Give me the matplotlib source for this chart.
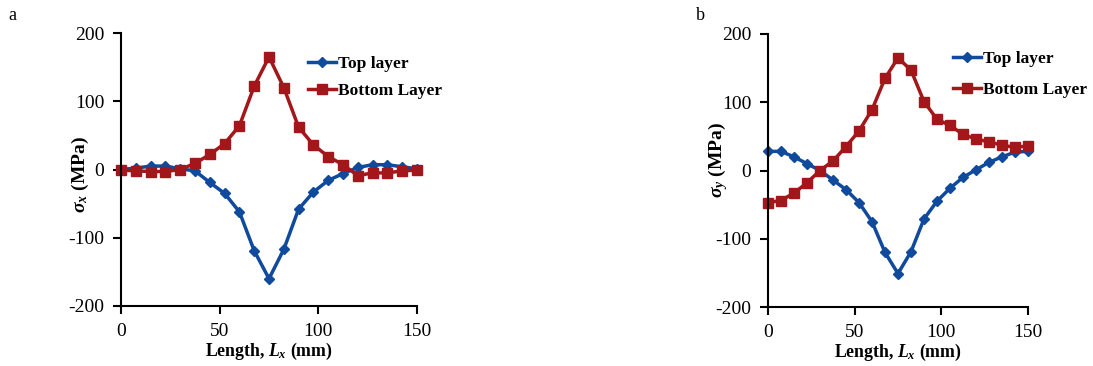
import numpy as np
import matplotlib.pyplot as plt

plt.rcParams['font.family'] = ['Liberation Serif', 'DejaVu Serif']
plt.rcParams['mathtext.fontset'] = 'custom'
plt.rcParams['mathtext.it'] = 'Liberation Serif:italic:bold'
plt.rcParams['mathtext.rm'] = 'Liberation Serif:bold'
plt.rcParams['mathtext.bf'] = 'Liberation Serif:bold'

# posiciones a lo largo de la placa (mm)
longitud = np.arange(0, 150.1, 7.5)

# a) sigma_x
top_x = [0, 2, 5, 5, 1, -2, -19, -35, -62, -119, -160,
         -117, -58, -33, -16, -6, 3, 7, 7, 4, 1]
bottom_x = [-1, -2, -3, -3, 0, 9, 22, 38, 64, 122, 165,
            120, 62, 36, 19, 7, -9, -5, -5, -2, -1]

# b) sigma_y
top_y = [28, 28, 20, 10, 0, -14, -28, -47, -75, -120, -151,
         -119, -71, -45, -26, -10, 1, 12, 20, 27, 28]
bottom_y = [-47, -44, -33, -18, 0, 14, 35, 58, 89, 135, 165,
            147, 101, 75, 66, 53, 46, 42, 37, 34, 36]

azul = '#0F4A9C'
rojo = '#A3161A'

fig = plt.figure(figsize=(10.93, 3.66), dpi=100)
W, H = 1093, 366

def panel(left, right, top, bottom, t, b, ylab, ylab_xy, ylab_size, letra, lx, ly,
          legx, legy, legsp):
    ax = fig.add_axes([left / W, 1 - bottom / H, (right - left) / W, (bottom - top) / H])
    ax.plot(longitud, t, color=azul, lw=2.5, marker='D', ms=5, label='Top layer')
    ax.plot(longitud, b, color=rojo, lw=2.5, marker='s', ms=7.5, label='Bottom Layer')
    ax.set_xlim(0, 150)
    ax.set_ylim(-200, 200)
    ax.set_xticks([0, 50, 100, 150])
    ax.set_yticks([-200, -100, 0, 100, 200])
    ax.set_yticklabels(['-200', '-100', '0', '100', '200'])
    ax.spines['top'].set_visible(False)
    ax.spines['right'].set_visible(False)
    ax.spines['left'].set_linewidth(1.5)
    ax.spines['bottom'].set_linewidth(1.5)
    ax.tick_params(direction='out', length=6, width=1.5, labelsize=14, pad=6)
    ax.set_xlabel(r'Length, $L_x$ (mm)', fontsize=12.8, fontweight='bold', labelpad=1)
    ax.set_ylabel(ylab, fontsize=ylab_size, fontweight='bold')
    ax.yaxis.set_label_coords((ylab_xy[0] - left) / (right - left),
                              (bottom - ylab_xy[1]) / (bottom - top))
    fig.legend(*ax.get_legend_handles_labels(), loc='upper left',
               bbox_to_anchor=(legx / W, 1 - legy / H), frameon=False,
               prop={'weight': 'bold', 'size': 12.5}, handlelength=1.6,
               handletextpad=0.1, labelspacing=legsp, borderaxespad=0,
               borderpad=0)
    fig.text(lx / W, 1 - ly / H, letra, fontsize=13)
    for ln in ax.lines:
        ln.set_clip_on(False)
    return ax

panel(121, 417, 33, 306, top_x, bottom_x, r'$\sigma_x$ (MPa)', (91, 175), 14,
      'a', 8, 20, 308, 56, 0.6)
panel(768, 1028, 34, 307, top_y, bottom_y, r'$\sigma_y$ (MPa)', (730, 160), 14,
      'b', 696, 20, 953, 51, 0.85)

fig.savefig('out.png', dpi=100)
